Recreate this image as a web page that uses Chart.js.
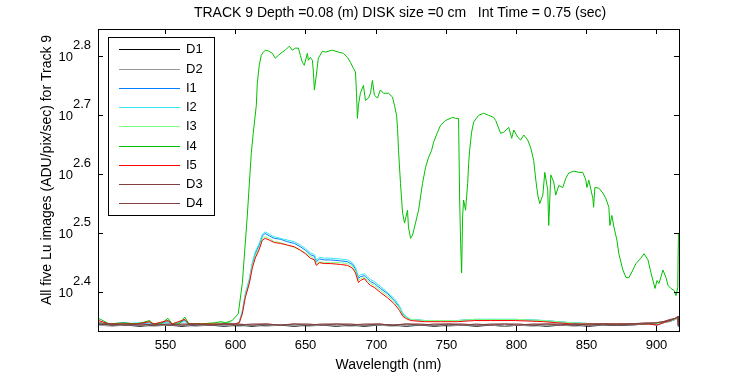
<!DOCTYPE html>
<html>
<head>
<meta charset="utf-8">
<script src="https://cdn.jsdelivr.net/npm/chart.js@4.4.1/dist/chart.umd.min.js"></script>
<style>
  html, body { margin: 0; padding: 0; background: #fff; }
  #wrap { width: 750px; height: 375px; position: relative; }
</style>
</head>
<body>
<div id="wrap"><canvas id="chart" width="750" height="375"></canvas></div>
<script>
// --- Data ---

const titleText = 'TRACK 9 Depth =0.08 (m) DISK size =0 cm   Int Time = 0.75 (sec)';
const xLabel = 'Wavelength (nm)';
const yLabel = 'All five Lu images (ADU/pix/sec) for Track 9';

const xTicks = [550, 600, 650, 700, 750, 800, 850, 900];
const yTickExps = [2.4, 2.5, 2.6, 2.7, 2.8];

const seriesNames = ['D1', 'D2', 'I1', 'I2', 'I3', 'I4', 'I5', 'D3', 'D4'];
const seriesColors = ['#000000', '#999999', '#0080ff', '#33e6f2', '#80ff80', '#00c000', '#ff0000', '#804040', '#804040'];

// dark frames
const wlDark = [502.5, 512, 522, 532, 542, 552, 562, 572, 582, 592, 602, 612, 622, 632, 642, 652, 662, 672, 682, 692,
  702, 712, 722, 732, 742, 752, 762, 772, 782, 792, 802, 812, 822, 832, 842, 852, 862, 872, 882, 892,
  900, 905, 910, 914, 915.7, 916];
const d1 = [222, 221, 221, 220, 221, 221, 220, 221, 221, 220, 221, 220, 221, 221, 220, 221, 221, 220, 221, 220,
  221, 221, 220, 221, 220, 221, 221, 220, 221, 220, 221, 221, 220, 221, 221, 220, 221, 221, 221, 222,
  222, 223, 225, 227, 228, 220];
const d2 = [221, 220, 221, 221, 220, 221, 221, 220, 221, 221, 220, 221, 220, 221, 221, 220, 221, 221, 220, 221,
  221, 220, 221, 221, 221, 220, 221, 221, 221, 220, 221, 220, 221, 221, 220, 221, 221, 222, 221, 222,
  222, 223, 224, 226, 227, 220];
const d3 = [223, 222, 221, 222, 221, 222, 221, 222, 221, 222, 222, 221, 222, 221, 222, 222, 221, 222, 222, 221,
  222, 221, 222, 222, 221, 222, 222, 221, 222, 222, 221, 222, 222, 221, 222, 221, 222, 222, 222, 222,
  223, 224, 225, 227, 229, 221];
const d4 = [222, 221, 222, 221, 222, 221, 222, 222, 221, 222, 221, 222, 222, 221, 222, 221, 222, 222, 221, 222,
  222, 221, 222, 221, 222, 222, 221, 222, 221, 222, 222, 221, 222, 222, 221, 222, 222, 221, 222, 223,
  223, 224, 226, 227, 228, 221];

// I1, I2, I3, I5 share one wavelength grid
const wlLow = [502.5, 510, 520, 530, 539, 542, 552, 555, 564, 567,
  580, 595, 600, 602.8, 605, 607.1, 610, 612.1, 614.2, 617.1,
  619.3, 621.4, 624.2, 627.8, 632.1, 637.1, 642.1, 646.4, 650, 653.5,
  656.4, 657.8, 660, 663.5, 667.8, 675, 680, 683.5, 685.7, 687.8,
  689.2, 692.1, 694.2, 696.4, 699.2, 703.5, 708.5, 713.5, 717.1, 719.3,
  721.4, 725, 735, 746.4, 758.6, 770.7, 782.1, 800, 820, 840,
  860, 880, 895, 900.7, 905, 910, 914, 915.7, 916];
const i1 = [222, 222, 223, 222, 223, 222, 224, 222, 225, 222,
  222, 222, 222, 223, 232, 248, 263, 280, 292, 302,
  313, 316, 313, 310, 309, 306, 304, 300, 296, 291,
  289, 283, 286, 285, 285, 284, 283, 280, 275, 265,
  267, 268, 265, 262, 260, 255, 250, 243, 237, 231,
  228, 226, 225, 225, 225, 226, 226, 226, 225, 223,
  222, 222, 222, 221, 223, 225, 226, 228, 220];
const i2 = [223, 222, 222, 223, 223, 222, 223, 222, 224, 222,
  222, 223, 222, 224, 234, 250, 265, 282, 294, 304,
  315, 318, 315, 312, 310, 308, 306, 302, 298, 293,
  291, 285, 288, 287, 287, 286, 285, 282, 277, 267,
  269, 270, 267, 264, 262, 257, 251, 245, 238, 232,
  229, 226, 225, 225, 225, 226, 226, 226, 225, 223,
  222, 222, 222, 222, 223, 225, 227, 228, 221];
const i3 = [223, 222, 222, 222, 224, 222, 225, 222, 226, 222,
  222, 223, 222, 223, 231, 247, 261, 278, 289, 299,
  310, 312, 310, 306, 305, 302, 299, 296, 293, 289,
  286, 281, 283, 282, 282, 282, 281, 278, 273, 263,
  265, 266, 263, 260, 258, 253, 248, 242, 236, 230,
  228, 226, 225, 225, 225, 226, 226, 226, 225, 223,
  222, 222, 222, 222, 223, 225, 226, 228, 221];
const i5 = [225, 222, 222, 222, 224, 222, 225, 222, 226, 222,
  222, 222, 222, 223, 231, 246, 260, 276, 287, 297,
  308, 310, 308, 305, 304, 302, 300, 296, 292, 287,
  285, 279, 282, 281, 281, 280, 279, 276, 271, 261,
  263, 265, 261, 258, 256, 251, 246, 240, 234, 229,
  227, 225, 224, 224, 224, 225, 225, 225, 224, 222,
  222, 222, 222, 221, 223, 225, 227, 228, 221];

// I4, the bright one
const wlI4 = [502.5, 510, 520, 530, 539, 541, 547, 552, 555, 560,
  564, 567, 575, 585, 590, 592.8, 597.8, 602.1, 605, 608.5,
  611.4, 612.8, 615, 615.7, 617.1, 618.5, 620, 621.4, 623.5, 626.4,
  628.5, 630.7, 633.5, 635.7, 638.5, 640.7, 642.8, 645, 646.4, 647.8,
  649.2, 651.4, 652.1, 653.5, 655, 655.7, 656.4, 657.8, 659.2, 662.1,
  664.2, 669.2, 673.5, 677.1, 680, 682.1, 684.2, 685.7, 686.4, 687.1,
  687.8, 689.2, 691.4, 692.8, 695, 696.4, 697.8, 699.2, 701.4, 703.5,
  705.7, 709.2, 712.1, 713.5, 715, 715.7, 716.4, 717.8, 719.3, 720.7,
  722.8, 723.5, 725, 726.4, 728.5, 730.7, 733.5, 735.7, 737.8, 740,
  741.4, 744.2, 746.4, 750, 755, 757.1, 759.2, 760, 760.7, 761.4,
  762.1, 762.8, 764.2, 765.7, 766.4, 767.1, 768.5, 770, 773.5, 777.1,
  780.7, 784.2, 785.7, 789.2, 791.4, 795, 797.1, 798.6, 801.4, 803.5,
  805.7, 808.5, 810.7, 812.8, 814.3, 815.7, 817.1, 819.3, 820.7, 822.8,
  823.5, 825, 827.1, 828.5, 830.7, 833.5, 835.7, 837.8, 841.4, 845,
  847.8, 850, 850.7, 852.1, 855, 855.5, 856.4, 859.3, 862.1, 864.3,
  866.4, 867.1, 868.5, 870, 872.1, 873.5, 876.4, 878.6, 880.7, 883.5,
  885.7, 889.3, 891.4, 894.3, 896.4, 899.3, 900.7, 902.1, 905, 907.1,
  908.6, 910.7, 912.9, 914.3, 915.5, 916];
const i4 = [227, 222, 223, 222, 225, 222, 222, 227, 222, 222,
  228, 222, 222, 223, 224, 223, 225, 231, 260, 337,
  432, 467, 521, 568, 609, 633, 641, 646, 644, 638,
  626, 633, 641, 646, 656, 646, 651, 651, 633, 616,
  609, 638, 621, 628, 621, 593, 553, 586, 626, 643,
  641, 646, 641, 638, 628, 616, 602, 593, 548, 495,
  521, 546, 563, 531, 536, 546, 574, 542, 536, 553,
  546, 546, 538, 521, 501, 476, 437, 384, 342, 329,
  346, 324, 310, 314, 329, 346, 384, 409, 425, 437,
  451, 469, 482, 491, 497, 495, 495, 360, 304, 271,
  337, 360, 346, 384, 415, 437, 469, 488, 501, 505,
  501, 497, 491, 467, 469, 478, 458, 473, 460, 455,
  464, 455, 441, 420, 389, 367, 355, 367, 401, 374,
  326, 397, 386, 367, 381, 378, 392, 400, 403, 401,
  401, 389, 378, 389, 362, 350, 378, 377, 370, 362,
  350, 326, 339, 324, 308, 292, 274, 266, 266, 274,
  281, 287, 292, 285, 271, 255, 263, 260, 274, 266,
  258, 255, 253, 248, 256, 316];

const xMin = 502.1, xMax = 916.4;
const yMin = 216, yMax = 701.5;

// --- Build datasets ---

function pts(xs, ys) {
    return xs.map((x, i) => ({ x: x, y: ys[i] }));
}

const seriesData = [
    pts(wlDark, d1), pts(wlDark, d2),
    pts(wlLow, i1), pts(wlLow, i2), pts(wlLow, i3),
    pts(wlI4, i4), pts(wlLow, i5),
    pts(wlDark, d3), pts(wlDark, d4)
];

const datasets = seriesNames.map((name, i) => ({
    label: name,
    data: seriesData[i],
    borderColor: seriesColors[i],
    backgroundColor: seriesColors[i],
    borderWidth: 1,
    pointRadius: 0,
    showLine: true,
    tension: 0,
    order: seriesNames.length - i // later series on top, like matlab
}));

const FAMILY = '"Liberation Sans", Arial, sans-serif';
const TICK_FONT = '13px ' + FAMILY;
const LABEL_FONT = '14px ' + FAMILY;

// --- Axes, ticks, labels and legend drawn matlab-style ---

const matlabFrame = {
    id: 'matlabFrame',
    afterDraw(chart) {
        const ctx = chart.ctx;
        const a = chart.chartArea;
        const xs = chart.scales.x;
        const ys = chart.scales.y;
        const tl = 5;

        ctx.save();
        ctx.strokeStyle = '#000';
        ctx.fillStyle = '#000';
        ctx.lineWidth = 1;

        // box
        ctx.strokeRect(Math.round(a.left) + 0.5, Math.round(a.top) + 0.5,
            Math.round(a.right - a.left), Math.round(a.bottom - a.top));

        ctx.font = TICK_FONT;
        ctx.textAlign = 'center';
        ctx.textBaseline = 'middle';

        // x ticks
        xTicks.forEach(v => {
            const px = Math.round(xs.getPixelForValue(v)) + 0.5;
            ctx.beginPath();
            ctx.moveTo(px, a.bottom); ctx.lineTo(px, a.bottom - tl);
            ctx.moveTo(px, a.top); ctx.lineTo(px, a.top + tl);
            ctx.stroke();
            ctx.fillText(String(v), px, a.bottom + 14);
        });

        // y ticks (log)
        yTickExps.forEach(e => {
            const py = Math.round(ys.getPixelForValue(Math.pow(10, e))) + 0.5;
            ctx.beginPath();
            ctx.moveTo(a.left, py); ctx.lineTo(a.left + tl, py);
            ctx.moveTo(a.right, py); ctx.lineTo(a.right - tl, py);
            ctx.stroke();
            ctx.textAlign = 'right';
            ctx.fillText('10', 73, py + 1);
            ctx.textAlign = 'left';
            ctx.fillText(e.toFixed(1), 73, py - 11);
        });

        // title + axis labels
        ctx.font = LABEL_FONT;
        ctx.textAlign = 'center';
        ctx.fillText(titleText, 400, 13);
        ctx.fillText(xLabel, (a.left + a.right) / 2, 365);
        ctx.save();
        ctx.translate(47, 170);
        ctx.rotate(-Math.PI / 2);
        ctx.fillText(yLabel, 0, 0);
        ctx.restore();

        // legend
        ctx.font = TICK_FONT;
        const lx = 108.5, ly = 37.5, lw = 106, lh = 178;
        ctx.fillStyle = '#fff';
        ctx.fillRect(lx, ly, lw, lh);
        ctx.strokeStyle = '#000';
        ctx.strokeRect(lx, ly, lw, lh);
        ctx.textAlign = 'left';
        seriesNames.forEach((name, i) => {
            const ry = Math.round(49.3 + i * 19.25) + 0.5;
            ctx.strokeStyle = seriesColors[i];
            ctx.beginPath();
            ctx.moveTo(119, ry); ctx.lineTo(180, ry);
            ctx.stroke();
            ctx.fillStyle = '#000';
            ctx.fillText(name, 186, ry);
        });

        ctx.restore();
    }
};

new Chart(document.getElementById('chart').getContext('2d'), {
    type: 'scatter',
    data: { datasets: datasets },
    options: {
        responsive: false,
        animation: false,
        devicePixelRatio: 1,
        layout: { padding: { left: 98, right: 71, top: 29, bottom: 44 } },
        scales: {
            x: {
                type: 'linear',
                min: xMin,
                max: xMax,
                ticks: { display: false },
                grid: { display: false, drawTicks: false },
                border: { display: false },
                afterFit: (s) => { s.height = 0; }
            },
            y: {
                type: 'logarithmic',
                min: yMin,
                max: yMax,
                ticks: { display: false },
                grid: { display: false, drawTicks: false },
                border: { display: false },
                afterFit: (s) => { s.width = 0; }
            }
        },
        plugins: {
            legend: { display: false },
            tooltip: { enabled: false }
        }
    },
    plugins: [matlabFrame]
});
</script>
</body>
</html>
